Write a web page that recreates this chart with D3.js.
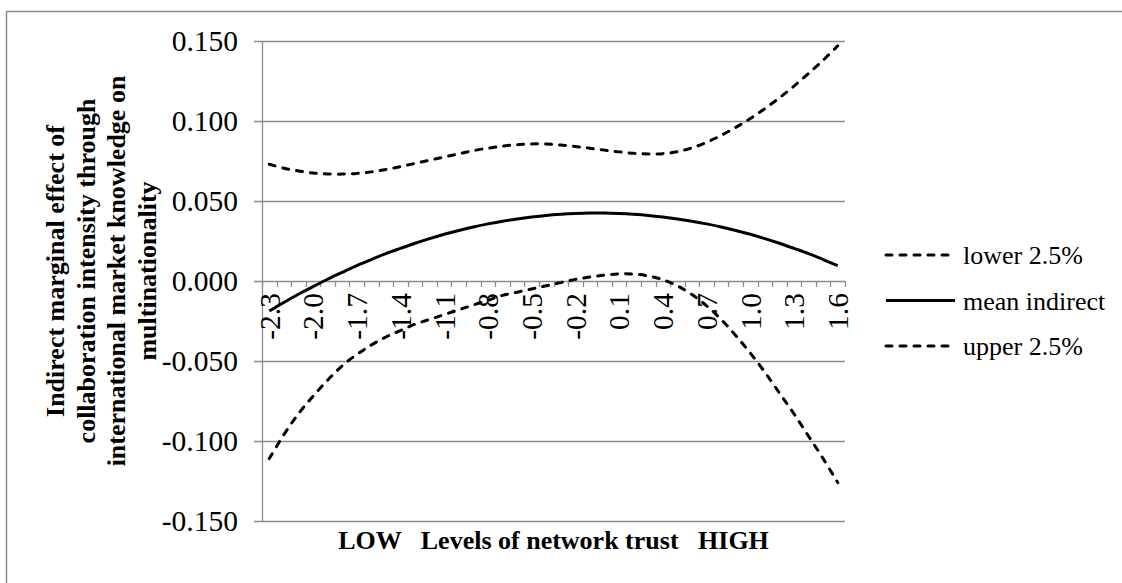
<!DOCTYPE html>
<html>
<head>
<meta charset="utf-8">
<script src="https://cdn.jsdelivr.net/npm/d3@7/dist/d3.min.js"></script>
<style>
  html, body { margin: 0; padding: 0; background: #fff; }
  svg text { font-family: "Times New Roman", "Liberation Serif", Times, serif; }
</style>
</head>
<body>
<svg id="chart" width="1122" height="583"></svg>
<script>
// network trust levels (category axis)
const categories = [-2.3, -2.2, -2.1, -2.0, -1.9, -1.8, -1.7, -1.6, -1.5, -1.4,
  -1.3, -1.2, -1.1, -1.0, -0.9, -0.8, -0.7, -0.6, -0.5, -0.4,
  -0.3, -0.2, -0.1, 0.0, 0.1, 0.2, 0.3, 0.4, 0.5, 0.6,
  0.7, 0.8, 0.9, 1.0, 1.1, 1.2, 1.3, 1.4, 1.5, 1.6];

// upper band (top dashed curve)
const upper = [0.0730, 0.0705, 0.0688, 0.0675, 0.0669, 0.0668, 0.0672, 0.0682, 0.0697, 0.0715,
  0.0735, 0.0755, 0.0775, 0.0795, 0.0815, 0.0830, 0.0843, 0.0852, 0.0857, 0.0856,
  0.0850, 0.0841, 0.0830, 0.0818, 0.0807, 0.0798, 0.0794, 0.0796, 0.0808, 0.0832,
  0.0867, 0.0910, 0.0960, 0.1015, 0.1077, 0.1145, 0.1218, 0.1297, 0.1380, 0.1470];

// mean indirect effect
const mean = [-0.0188, -0.0134, -0.0083, -0.0035, 0.0011, 0.0054, 0.0096, 0.0134, 0.0171, 0.0204,
  0.0236, 0.0265, 0.0292, 0.0316, 0.0338, 0.0357, 0.0374, 0.0388, 0.0400, 0.0410,
  0.0417, 0.0422, 0.0425, 0.0425, 0.0422, 0.0417, 0.0410, 0.0400, 0.0388, 0.0374,
  0.0357, 0.0338, 0.0316, 0.0292, 0.0265, 0.0236, 0.0204, 0.0171, 0.0134, 0.0096];

// lower band (bottom dashed curve)
const lower = [-0.111, -0.096, -0.083, -0.072, -0.062, -0.053, -0.046, -0.040, -0.035, -0.031,
  -0.027, -0.024, -0.021, -0.018, -0.015, -0.012, -0.009, -0.007, -0.005, -0.003,
  -0.001, 0.001, 0.0025, 0.0037, 0.0044, 0.0043, 0.0032, 0.0008, -0.003, -0.0085,
  -0.0155, -0.024, -0.034, -0.045, -0.057, -0.070, -0.083, -0.097, -0.111, -0.126];

const yTicks = [-0.15, -0.10, -0.05, 0, 0.05, 0.10, 0.15];
const xLabelTicks = [-2.3, -2.0, -1.7, -1.4, -1.1, -0.8, -0.5, -0.2, 0.1, 0.4, 0.7, 1.0, 1.3, 1.6];

const series = [
  { name: 'lower 2.5%', values: upper, dashed: true },
  { name: 'mean indirect', values: mean, dashed: false },
  { name: 'upper 2.5%', values: lower, dashed: true }
];

const yTitleLines = ['Indirect marginal effect of', 'collaboration intensity through',
  'international market knowledge on', 'multinationality'];

const grid = '#8c8c8c';
const serif = '"Times New Roman", "Liberation Serif", Times, serif';
const svg = d3.select('#chart');

// outer chart border
svg.append('rect')
  .attr('x', 6.5).attr('y', 11.5)
  .attr('width', 1130).attr('height', 600)
  .attr('fill', 'none').attr('stroke', grid).attr('stroke-width', 1.5);

const plot = { left: 262, right: 845, top: 41, bottom: 521 };

const x = d3.scaleBand()
  .domain(categories.map(d => d.toFixed(1)))
  .range([plot.left, plot.right])
  .paddingInner(0).paddingOuter(0);
const bw = x.bandwidth();
const cx = c => x(c.toFixed(1)) + bw / 2;

const y = d3.scaleLinear().domain([-0.15, 0.15]).range([plot.bottom, plot.top]);
const fmt = v => d3.format('.3f')(v).replace('\u2212', '-');

// horizontal gridlines with small ticks to the left
svg.append('g').selectAll('line')
  .data(yTicks)
  .join('line')
  .attr('x1', plot.left - 8).attr('x2', plot.right)
  .attr('y1', d => Math.round(y(d)) + 0.5).attr('y2', d => Math.round(y(d)) + 0.5)
  .attr('stroke', grid).attr('stroke-width', 1.3);

// vertical axis line
svg.append('line')
  .attr('x1', plot.left + 0.5).attr('x2', plot.left + 0.5)
  .attr('y1', plot.top).attr('y2', plot.bottom)
  .attr('stroke', grid).attr('stroke-width', 1.3);

// y tick labels
svg.append('g').selectAll('text')
  .data(yTicks)
  .join('text')
  .attr('x', 238).attr('y', d => y(d))
  .attr('dy', '0.35em')
  .attr('text-anchor', 'end')
  .attr('font-family', serif)
  .attr('font-size', 29.5)
  .text(d => fmt(d));

// category tick marks on the zero line (at band edges)
const edges = categories.map(c => x(c.toFixed(1))).concat([plot.right]);
svg.append('g').selectAll('line')
  .data(edges)
  .join('line')
  .attr('x1', d => Math.round(d) + 0.5).attr('x2', d => Math.round(d) + 0.5)
  .attr('y1', y(0)).attr('y2', y(0) + 6)
  .attr('stroke', grid).attr('stroke-width', 1.3);

// rotated category labels
svg.append('g').selectAll('text')
  .data(xLabelTicks)
  .join('text')
  .attr('transform', d => `translate(${cx(d)},${y(0) + 12}) rotate(-90)`)
  .attr('dy', '0.35em')
  .attr('text-anchor', 'end')
  .attr('font-family', serif)
  .attr('font-size', 29.5)
  .text(d => d.toFixed(1));

// curves
const line = d3.line()
  .x((d, i) => cx(categories[i]))
  .y(d => y(d))
  .curve(d3.curveCatmullRom.alpha(0.5));

svg.append('g').selectAll('path')
  .data(series)
  .join('path')
  .attr('d', d => line(d.values))
  .attr('fill', 'none')
  .attr('stroke', '#000')
  .attr('stroke-width', 3)
  .attr('stroke-linecap', d => d.dashed ? 'round' : 'butt')
  .attr('stroke-dasharray', d => d.dashed ? '6,8' : null);

// y axis title
const yTitle = svg.append('text')
  .attr('transform', 'translate(0,271) rotate(-90)')
  .attr('text-anchor', 'middle')
  .attr('font-family', serif)
  .attr('font-size', 26)
  .attr('font-weight', 'bold');
yTitle.selectAll('tspan')
  .data(yTitleLines)
  .join('tspan')
  .attr('x', 0)
  .attr('y', (d, i) => 64 + i * 30.5)
  .text(d => d);

// x axis title
svg.append('text')
  .attr('x', (plot.left + plot.right) / 2)
  .attr('y', 549)
  .attr('text-anchor', 'middle')
  .attr('font-family', serif)
  .attr('font-size', 26)
  .attr('font-weight', 'bold')
  .style('white-space', 'pre')
  .text('LOW   Levels of network trust   HIGH');

// legend
const legend = svg.append('g').selectAll('g')
  .data(series)
  .join('g')
  .attr('transform', (d, i) => `translate(886,${255 + i * 45.5})`);
legend.append('line')
  .attr('x1', 0).attr('x2', 69)
  .attr('stroke', '#000').attr('stroke-width', 3)
  .attr('stroke-linecap', d => d.dashed ? 'round' : 'butt')
  .attr('stroke-dasharray', d => d.dashed ? '6,8' : null);
legend.append('text')
  .attr('x', 77).attr('dy', '0.35em')
  .attr('font-family', serif)
  .attr('font-size', 26)
  .text(d => d.name);
</script>
</body>
</html>
